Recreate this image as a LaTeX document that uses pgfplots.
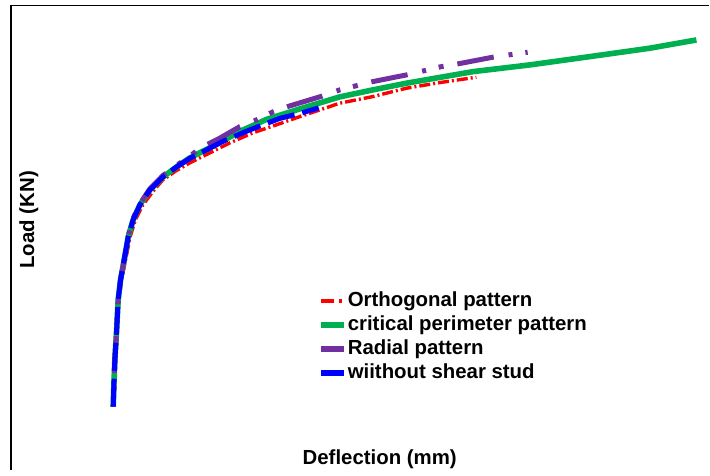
\documentclass[border=0pt]{standalone}
\usepackage{fontspec}
\setmainfont{Liberation Sans}
\usepackage{pgfplots}
\pgfplotsset{compat=1.18}
\begin{document}
\begin{tikzpicture}
\begin{axis}[
  scale only axis,
  width=349.5pt, height=232.25pt,
  xmin=-6.8, xmax=39.8, ymin=-62, ymax=402.5,
  axis x line*=top, axis y line*=left,
  axis line style={line width=0.55pt, black},
  xtick=\empty, ytick=\empty,
  clip=false,
  legend image code/.code={\draw[#1] (0cm,0cm) -- (0.4cm,0cm);},
  legend style={draw=none, fill=none, inner sep=0pt, anchor=north west,
    at={(axis cs:13.7,118.5)}, font=\fontsize{10.2}{12}\selectfont\bfseries,
    row sep=0.5pt, cells={anchor=west},
    nodes={inner xsep=0.4pt, inner ysep=1pt, text height=7.5pt, text depth=2pt}},
]
% Orthogonal pattern (red)
\addplot[red, line width=1.7pt, dash pattern=on 5.5pt off 1.5pt on 1pt off 1.5pt, forget plot] coordinates {
(0.02,1) (0.07,25) (0.13,48) (0.27,78) (0.40,108) (0.58,128) (0.90,152) (1.15,171) (1.50,188) (2.00,203) (2.70,217) (3.33,228) (4.20,237) (5.13,245) (6.47,255) (7.80,265) (9.33,275) (10.90,283) (12.47,291.3) (13.80,298) (15.13,304.7) (17.33,311.3) (19.58,319.7) (21.80,325.3) (24.25,330.7)};
% critical perimeter pattern (green)
\addplot[color={rgb,255:red,0;green,176;blue,80}, line width=2.8pt, forget plot] coordinates {
(0.02,1) (0.07,25) (0.13,48) (0.25,78) (0.35,108) (0.51,128) (0.80,152) (1.02,171) (1.35,188) (1.80,203) (2.47,218) (3.35,231) (4.25,241) (5.13,250) (6.25,258.5) (7.33,267) (8.47,276.5) (10.25,288.5) (12.47,299) (15.13,311) (17.33,318) (19.58,324.7) (21.80,330.5) (24.02,336.3) (27.80,343) (31.80,351.3) (35.80,359.7) (38.93,368)};
% Radial pattern (purple)
\addplot[color={rgb,255:red,112;green,48;blue,160}, line width=2.5pt, dash pattern=on 18.5pt off 7.5pt on 2pt off 6.5pt on 2.5pt off 7pt, dash phase=27.2pt, forget plot] coordinates {
(0.02,1) (0.07,25) (0.13,48) (0.25,78) (0.35,108) (0.51,128) (0.80,152) (1.00,171) (1.33,189) (1.80,204) (2.47,219) (3.35,232.5) (4.25,242.5) (5.13,251.5) (5.80,259.7) (7.13,269.7) (8.47,281.3) (9.58,288) (10.67,296) (11.80,302) (14.00,312) (15.13,318) (17.33,326.3) (19.58,333) (21.91,341.3) (23.00,344) (25.33,350.7) (27.67,355.7)};
% wiithout shear stud (blue)
\addplot[blue, line width=2.5pt, dash pattern=on 14pt off 4pt, forget plot] coordinates {
(0.02,1) (0.07,25) (0.13,48) (0.25,78) (0.35,108) (0.51,128) (0.80,152) (1.02,171) (1.35,188) (1.80,203) (2.47,218) (3.35,231) (4.25,241) (5.13,249.5) (6.25,258) (7.33,266.5) (9.13,278) (11.13,289.5) (12.47,294.5) (13.73,300)};
\addlegendimage{red, line width=1.7pt, dash pattern=on 6.5pt off 2.5pt on 1.5pt off 5pt}
\addlegendentry{Orthogonal pattern}
\addlegendimage{color={rgb,255:red,0;green,176;blue,80}, line width=2.8pt}
\addlegendentry{critical perimeter pattern}
\addlegendimage{color={rgb,255:red,112;green,48;blue,160}, line width=2.8pt}
\addlegendentry{Radial pattern}
\addlegendimage{blue, line width=2.8pt}
\addlegendentry{wiithout shear stud}
\node[font=\fontsize{10.2}{12}\selectfont\bfseries] at (axis cs:17.8,-52) {Deflection (mm)};
\node[font=\fontsize{10.2}{12}\selectfont\bfseries, rotate=90] at (axis cs:-5.6,188) {Load (KN)};
\end{axis}
\path (current axis.north west) ++(-5.5pt,2.75pt) rectangle (current axis.south east);
\end{tikzpicture}
\end{document}
